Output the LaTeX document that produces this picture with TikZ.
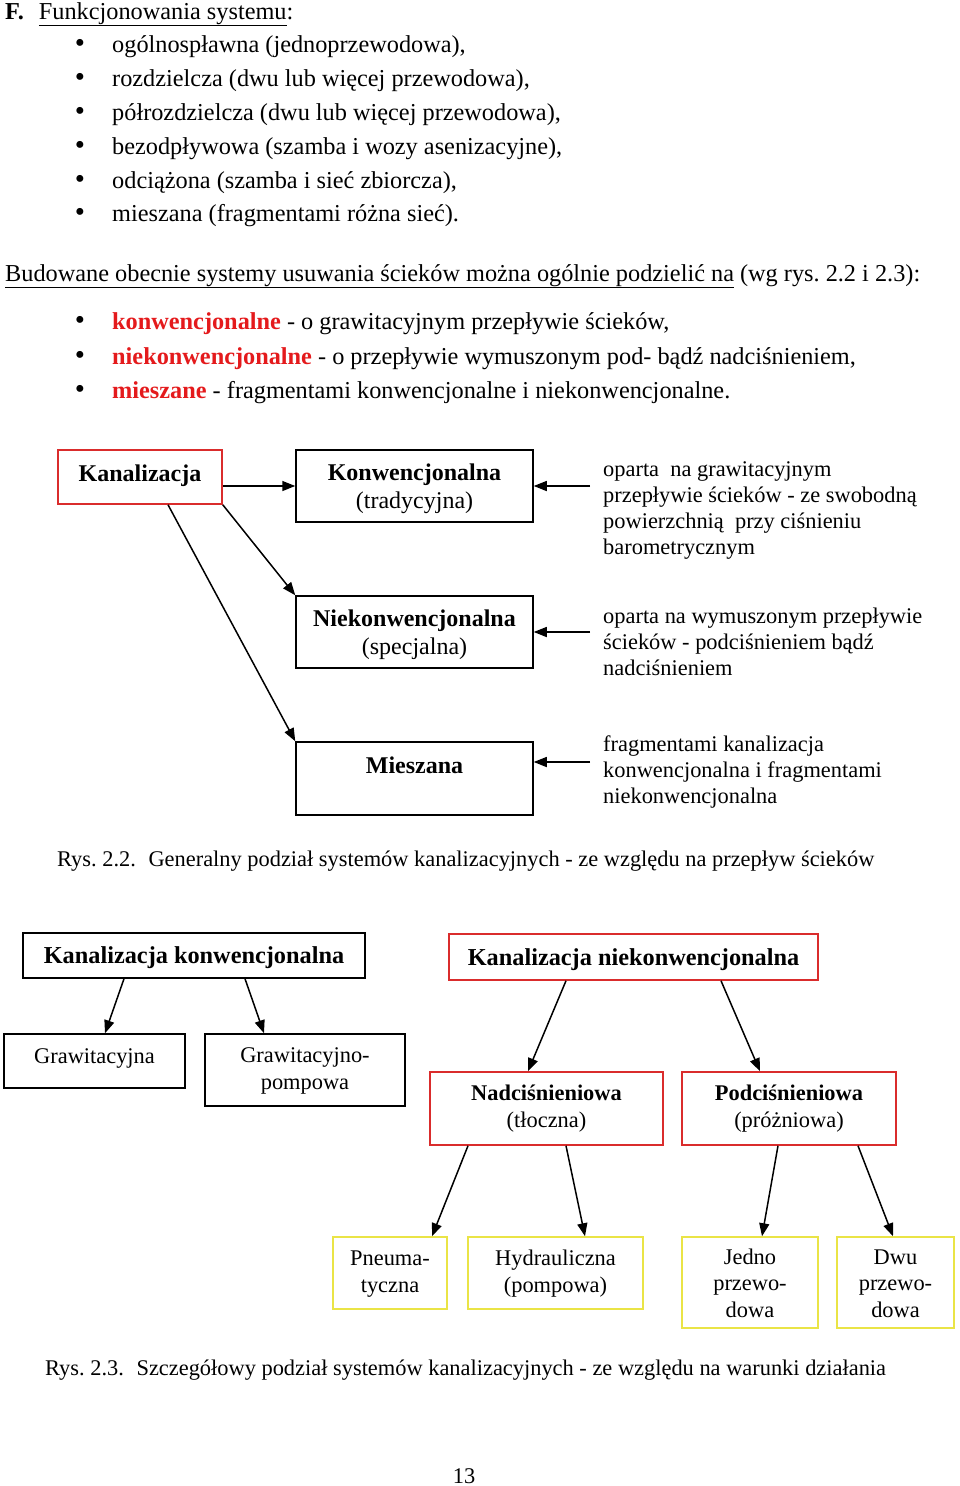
\documentclass[tikz,border=0pt]{standalone}
\usepackage{fontspec}
\setmainfont{Liberation Serif}
\usetikzlibrary{arrows.meta}
\definecolor{kred}{RGB}{228,26,28}
\definecolor{bred}{RGB}{218,44,44}
\definecolor{byel}{RGB}{234,228,70}
\frenchspacing
\begin{document}
\begin{tikzpicture}[x=1pt,y=-1pt,
  txt/.style={anchor=base west, inner sep=0, font=\fontsize{24.3}{29}\selectfont},
  captxt/.style={anchor=base west, inner sep=0, font=\fontsize{22.4}{27}\selectfont},
  bul/.style={anchor=base, inner sep=0, font=\fontsize{29}{29}\selectfont},
  desc/.style={anchor=base west, inner sep=0, align=left, font=\fontsize{22.4}{25.7}\selectfont},
  box/.style={draw, line width=1.5pt, inner sep=0},
  redbox/.style={box, draw=bred},
  yelbox/.style={box, draw=byel},
  lbl/.style={anchor=base, inner sep=0, align=center, font=\fontsize{22.4}{26.5}\selectfont},
  blbl/.style={lbl, font=\fontsize{24}{28}\selectfont},
  hlbl/.style={lbl, font=\fontsize{24.3}{28}\selectfont\bfseries},
  arr/.style={-{Triangle[length=13pt,width=10pt]}, line width=1.5pt}
]
\useasboundingbox (0,0) rectangle (960,1486);

% ---------- header text ----------
\node[txt] (F) at (5,19) {\textbf{F.}\hspace{15pt}\underline{Funkcjonowania systemu}:};
\foreach \y/\t [count=\i] in {52/{ogólnospławna (jednoprzewodowa),},
  86/{rozdzielcza (dwu lub więcej przewodowa),},
  120/{półrozdzielcza (dwu lub więcej przewodowa),},
  154/{bezodpływowa (szamba i wozy asenizacyjne),},
  188/{odciążona (szamba i sieć zbiorcza),},
  221/{mieszana (fragmentami różna sieć).}}{
  \node[bul] (b\i) at (80,\y) {•};
  \node[txt] (t\i) at (112,\y) {\t};
}
\node[txt] (bud) at (5,281) {\underline{Budowane obecnie systemy usuwania ścieków można ogólnie podzielić na} (wg rys. 2.2 i 2.3):};
\node[bul] (c1) at (80,329) {•};
\node[txt] (u1) at (112,329) {\textcolor{kred}{\textbf{konwencjonalne}} - o grawitacyjnym przepływie ścieków,};
\node[bul] (c2) at (80,364) {•};
\node[txt] (u2) at (112,364) {\textcolor{kred}{\textbf{niekonwencjonalne}} - o przepływie wymuszonym pod- bądź nadciśnieniem,};
\node[bul] (c3) at (80,398) {•};
\node[txt] (u3) at (112,398) {\textcolor{kred}{\textbf{mieszane}} - fragmentami konwencjonalne i niekonwencjonalne.};

% ---------- diagram 1 ----------
\node[box, draw=bred, minimum width=164, minimum height=54] (kan) at (140,477) {};
\node[box, minimum width=237, minimum height=72] (kon) at (414.5,486) {};
\node[box, minimum width=237, minimum height=72] (nie) at (414.5,632) {};
\node[box, minimum width=237, minimum height=73] (mie) at (414.5,778.5) {};
\node[blbl] (kanL) at (140,481) {\textbf{Kanalizacja}};
\node[blbl] (konL) at (414.5,508) {\textbf{Konwencjonalna}\\(tradycyjna)};
\node[blbl] (nieL) at (414.5,654) {\textbf{Niekonwencjonalna}\\(specjalna)};
\node[blbl] (mieL) at (414.5,773) {\textbf{Mieszana}};

\draw[arr] (kon.west -| kan.east) -- (kon.west);
\draw[arr] (kan.south east) -- (nie.north west);
\draw[arr] ([xshift=28pt]kan.south) -- (mie.north west);

\coordinate (d1) at (590,486);
\coordinate (d2) at (590,632);
\coordinate (d3) at (590,762);
\draw[arr] (d1) -- (kon.east);
\draw[arr] (d2) -- (nie.east);
\draw[arr] (d3) -- (d3 -| mie.east);

\node[desc] (e1) at (603,554) {oparta \ na grawitacyjnym\\przepływie ścieków - ze swobodną\\powierzchnią \ przy ciśnieniu\\barometrycznym};
\node[desc] (e2) at (603,675) {oparta na wymuszonym przepływie\\ścieków - podciśnieniem bądź\\nadciśnieniem};
\node[desc] (e3) at (603,803) {fragmentami kanalizacja\\konwencjonalna i fragmentami\\niekonwencjonalna};

\node[captxt] (cap1) at (57,866) {Rys. 2.2.\hspace{7pt} Generalny podział systemów kanalizacyjnych - ze względu na przepływ ścieków};

% ---------- diagram 2 ----------
\node[box, minimum width=342, minimum height=45] (kk) at (194,955.5) {};
\node[redbox, minimum width=369, minimum height=46] (kn) at (633.5,957) {};
\node[box, minimum width=181, minimum height=54] (grav) at (94.5,1061) {};
\node[box, minimum width=200, minimum height=72] (gp) at (305,1070) {};
\node[redbox, minimum width=233, minimum height=73] (nad) at (546.5,1108.5) {};
\node[redbox, minimum width=214, minimum height=73] (pod) at (789,1108.5) {};
\node[yelbox, minimum width=114, minimum height=72] (pn) at (390,1273) {};
\node[yelbox, minimum width=175, minimum height=72] (hy) at (555.5,1273) {};
\node[yelbox, minimum width=136, minimum height=91] (je) at (750,1282.5) {};
\node[yelbox, minimum width=117, minimum height=91] (dw) at (895.5,1282.5) {};

\node[hlbl] (kkL) at (194,963) {Kanalizacja konwencjonalna};
\node[hlbl] (knL) at (633.5,965) {Kanalizacja niekonwencjonalna};
\node[lbl] (gravL) at (94.5,1063) {Grawitacyjna};
\node[lbl] (gpL) at (305,1089) {Grawitacyjno-\\pompowa};
\node[lbl] (nadL) at (546.5,1127) {\textbf{Nadciśnieniowa}\\(tłoczna)};
\node[lbl] (podL) at (789,1127) {\textbf{Podciśnieniowa}\\(próżniowa)};
\node[lbl] (pnL) at (390,1292) {Pneuma-\\tyczna};
\node[lbl] (hyL) at (555.5,1292) {Hydrauliczna\\(pompowa)};
\node[lbl] (jeL) at (750,1317) {Jedno\\przewo-\\dowa};
\node[lbl] (dwL) at (895.5,1317) {Dwu\\przewo-\\dowa};

\draw[arr] ([xshift=-70pt]kk.south) -- ([xshift=10.5pt]grav.north);
\draw[arr] ([xshift=51pt]kk.south) -- ([xshift=-41pt]gp.north);
\draw[arr] ([xshift=-67.5pt]kn.south) -- ([xshift=-18.5pt]nad.north);
\draw[arr] ([xshift=87.5pt]kn.south) -- ([xshift=-29pt]pod.north);
\draw[arr] ([xshift=-78.5pt]nad.south) -- ([xshift=42pt]pn.north);
\draw[arr] ([xshift=19.5pt]nad.south) -- ([xshift=29.5pt]hy.north);
\draw[arr] ([xshift=-11pt]pod.south) -- ([xshift=12pt]je.north);
\draw[arr] ([xshift=69pt]pod.south) -- ([xshift=-2.5pt]dw.north);

\node[captxt] (cap2) at (45,1375) {Rys. 2.3.\hspace{7pt} Szczegółowy podział systemów kanalizacyjnych - ze względu na warunki działania};
\node[lbl] (pg) at (464,1483) {13};
\end{tikzpicture}
\end{document}
